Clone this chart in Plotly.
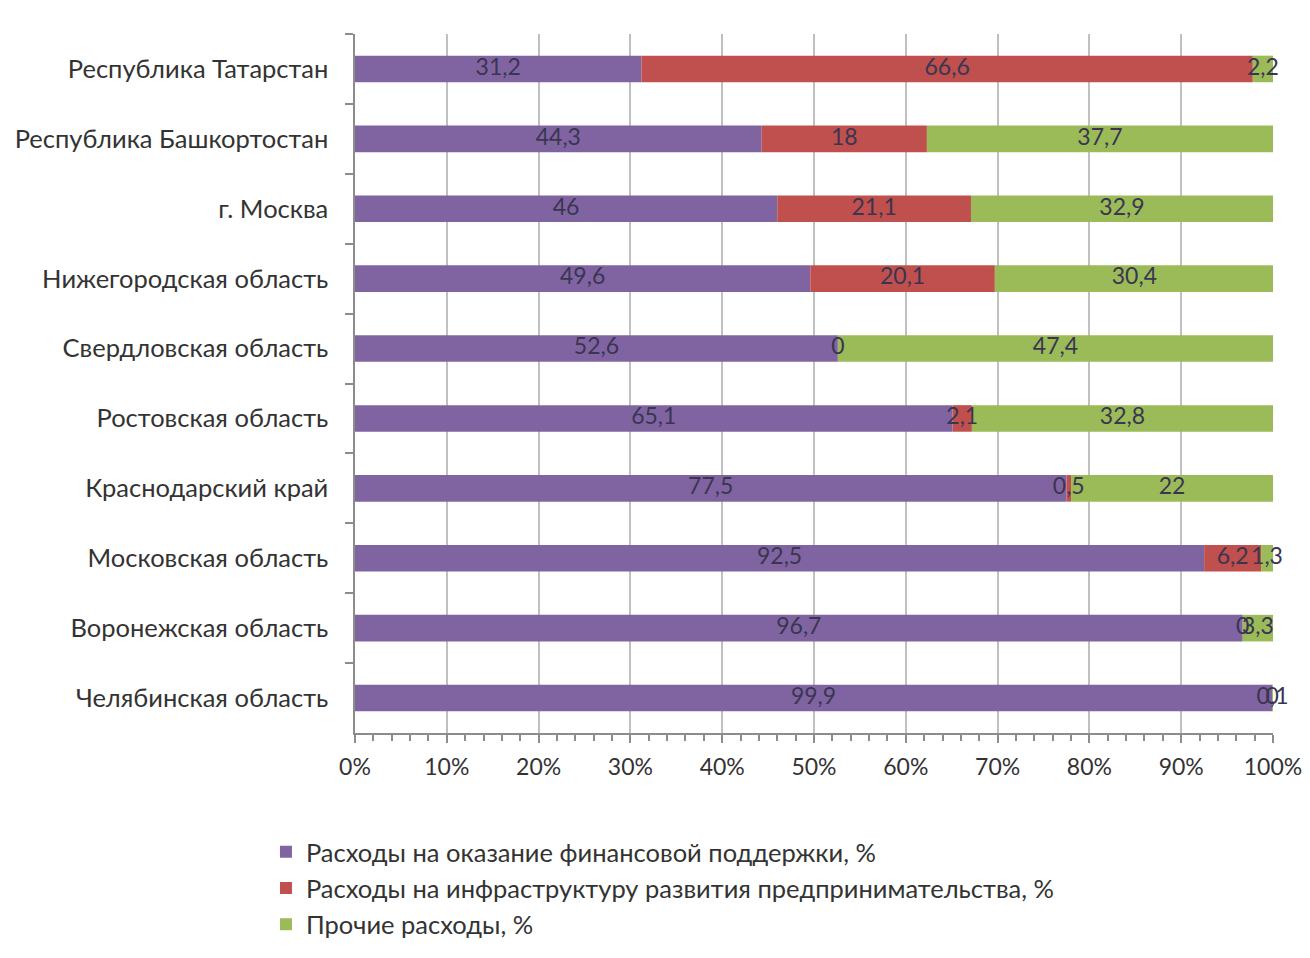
import plotly.graph_objects as go

regions = ["Республика Татарстан", "Республика Башкортостан", "г. Москва",
           "Нижегородская область", "Свердловская область", "Ростовская область",
           "Краснодарский край", "Московская область", "Воронежская область",
           "Челябинская область"]
finance = [31.2, 44.3, 46, 49.6, 52.6, 65.1, 77.5, 92.5, 96.7, 99.9]
infra = [66.6, 18, 21.1, 20.1, 0, 2.1, 0.5, 6.2, 0, 0]
other = [2.2, 37.7, 32.9, 30.4, 47.4, 32.8, 22, 1.3, 3.3, 0.1]

series = [
    ("Расходы на оказание финансовой поддержки, %", finance, "#8064A2"),
    ("Расходы на инфраструктуру развития предпринимательства, %", infra, "#C0504D"),
    ("Прочие расходы, %", other, "#9BBB59"),
]

FONT = "Lato, 'Open Sans', sans-serif"

def fmt(v):
    return ("%g" % v).replace(".", ",")

fig = go.Figure()
base = [0.0] * len(regions)
for name, vals, color in series:
    fig.add_trace(go.Bar(
        y=regions, x=vals, orientation="h", name=name,
        marker=dict(color=color, line=dict(width=0)),
        width=0.38, base=base[:],
    ))
    mids = [b + v / 2 for b, v in zip(base, vals)]
    fig.add_trace(go.Scatter(
        y=regions, x=mids, mode="text", text=[fmt(v) for v in vals],
        textposition="middle center",
        textfont=dict(family=FONT, size=23, color="#3a3550"),
        showlegend=False, hoverinfo="skip", cliponaxis=False,
    ))
    base = [b + v for b, v in zip(base, vals)]

fig.update_layout(
    width=1310, height=958,
    paper_bgcolor="white", plot_bgcolor="white",
    margin=dict(l=347, r=45, t=26, b=233, autoexpand=False),
    barmode="overlay",
    font=dict(family=FONT, size=22, color="#333333"),
    legend=dict(orientation="v", x=-0.097, xanchor="left", y=-0.137, yanchor="top",
                font=dict(family=FONT, size=25.5, color="#333333"),
                itemwidth=30, tracegroupgap=0),
)
fig.update_xaxes(
    range=[0, 100], dtick=10, ticksuffix="%",
    showgrid=True, gridcolor="#c0c0c0", gridwidth=2,
    showline=True, linecolor="#8c8c8c", linewidth=2,
    ticks="outside", ticklen=8, tickwidth=2, tickcolor="#8c8c8c",
    minor=dict(dtick=2, ticks="outside", ticklen=6, tickcolor="#8c8c8c", tickwidth=2, showgrid=False),
    tickfont=dict(size=23, color="#333333"), zeroline=False,
    ticklabelstandoff=4, automargin=False,
)
fig.update_yaxes(
    type="category", autorange="reversed", categoryorder="array", categoryarray=regions,
    showline=True, linecolor="#8c8c8c", linewidth=2,
    ticks="outside", ticklen=8, tickwidth=2, tickcolor="#8c8c8c",
    tickson="boundaries", showgrid=False, automargin=False,
    tickfont=dict(size=25.5, color="#333333"), ticksuffix="   ",
)

fig.write_html("out.html")
